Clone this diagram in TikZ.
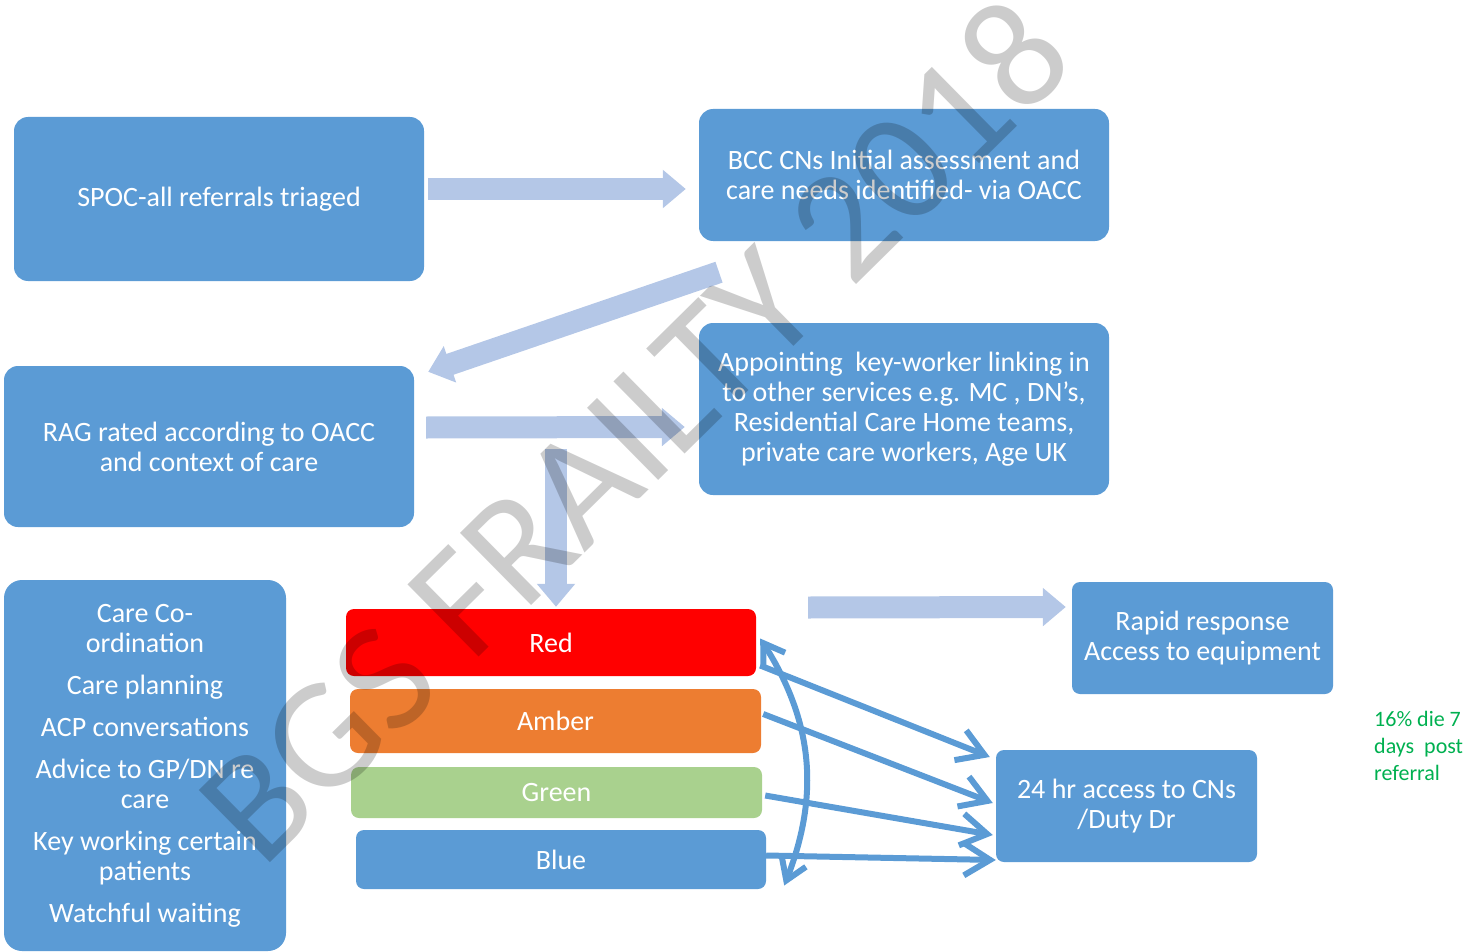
\documentclass[tikz,border=0pt]{standalone}
\usepackage{fontspec}
\setmainfont{Carlito}
\usetikzlibrary{arrows.meta,bending}
\definecolor{boxblue}{HTML}{5B9BD5}
\definecolor{paleblue}{HTML}{B4C7E7}
\definecolor{ragred}{HTML}{FF0000}
\definecolor{ragamber}{HTML}{ED7D31}
\definecolor{raggreen}{HTML}{A9D18E}
\definecolor{notegreen}{HTML}{00B050}

\begin{document}
\begin{tikzpicture}[x=1pt,y=-1pt,
    box/.style={fill=boxblue,rounded corners=14pt,text=white,align=center,inner sep=0pt,
      font=\fontsize{28}{30}\selectfont},
    bar/.style={rounded corners=8pt,text=white,inner sep=0pt,minimum width=410pt,
      font=\fontsize{28}{30}\selectfont},
    flow/.style={draw=paleblue,line width=22pt,-{Triangle[length=23pt,width=37pt]}},
    link/.style={draw=boxblue,line width=6pt,-{Straight Barb[length=26pt,width=32pt]}},
    turn/.style={draw=boxblue,line width=6pt,
      {Straight Barb[length=20pt,width=26pt]}-{Straight Barb[length=20pt,width=26pt]}}]
    \useasboundingbox (0,0) rectangle (1464,952);
    \node[box,minimum width=410pt,minimum height=164pt] (spoc) at (219,199) {SPOC-all referrals triaged};
    \node[box,minimum width=410pt,minimum height=132pt] (bcc) at (904,175)
      {BCC CNs Initial assessment and\\care needs identified- via OACC};
    \node[box,minimum width=410pt,minimum height=161pt] (rag) at (209,446.5)
      {RAG rated according to OACC\\and context of care};
    \node[box,minimum width=410pt,minimum height=172pt] (keywork) at (904,409)
      {Appointing\ \ key-worker linking in\\to other services e.g. MC , DN’s,\\Residential Care Home teams,\\private care workers, Age UK};
    \node[box,minimum width=282pt,minimum height=371pt,rounded corners=18pt] (care) at (145,765.5)
      {Care Co-\\ordination\\[12pt]Care planning\\[12pt]ACP conversations\\[12pt]Advice to GP/DN re\\care\\[12pt]Key working certain\\patients\\[12pt]Watchful waiting};
    \node[bar,fill=ragred,minimum height=67pt] (red) at (551,642.5) {Red};
    \node[bar,fill=ragamber,minimum height=64pt,minimum width=411pt] (amber) at (555.5,721) {Amber};
    \node[bar,fill=raggreen,minimum height=51pt,minimum width=411pt] (green) at (556.5,792.5) {Green};
    \node[bar,fill=boxblue,minimum height=59pt] (blue) at (561,859.5) {Blue};
    \node[box,minimum width=261pt,minimum height=112pt,rounded corners=8pt] (rapid) at (1202.5,638)
      {Rapid response\\Access to equipment};
    \node[box,minimum width=261pt,minimum height=112pt,rounded corners=8pt] (access) at (1126.5,806)
      {24 hr access to CNs\\/Duty Dr};
    \node[anchor=north west,inner sep=0pt,align=left,text=notegreen,font=\fontsize{22}{27}\selectfont]
      (note) at (1374,711) {16\% die 7\\days\ \ post\\referral};
    \coordinate (split) at (556,449);

    \draw[flow] ([shift={(4,-10)}]spoc.east) -- ([shift={(-13,14)}]bcc.west);
    \draw[flow] ([shift={(-185,31)}]bcc.south) -- ([shift={(14,6)}]rag.north east);
    \draw[flow] ([shift={(12,-19)}]rag.east) -- ([shift={(-14,18)}]keywork.west);
    \draw[flow] (split) -- ([shift={(5,-2)}]red.north);
    \draw[flow] ([shift={(52,-35)}]red.east) -- ([shift={(-6,-31)}]rapid.west);

    \draw[link] ([shift={(4,23)}]red.east) -- ([shift={(-6,-49)}]access.west);
    \draw[link] ([shift={(2,-7)}]amber.east) -- ([shift={(-3,-3)}]access.west);
    \draw[link] ([shift={(3,3)}]green.east) -- ([shift={(-3,29)}]access.west);
    \draw[link] ([shift={(0,-4)}]blue.east) -- ([shift={(0,54)}]access.west);
    \draw[turn] ([shift={(4,-4)}]red.east) to[bend left=28] ([shift={(18,26)}]blue.east);

    \node[anchor=base west,rotate=44.6,text=black,text opacity=0.2,inner sep=0pt,
      font=\fontsize{158}{158}\selectfont] (mark) at (262,871) {BGS FRAILTY 2018};
\end{tikzpicture}
\end{document}
